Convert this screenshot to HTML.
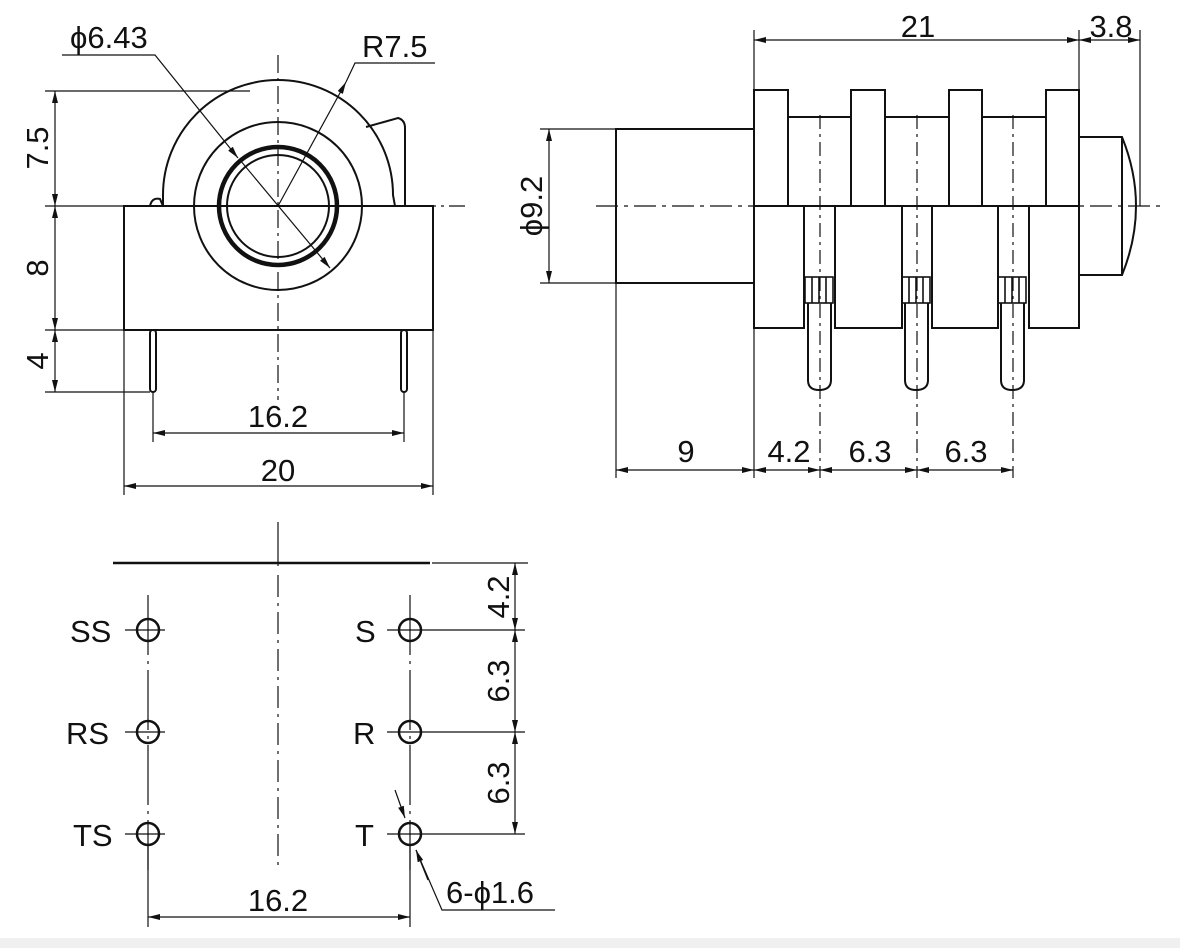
<!DOCTYPE html>
<html><head><meta charset="utf-8"><style>
html,body{margin:0;padding:0;background:#fff}
svg{display:block}
text{font-family:"Liberation Sans",Arial,sans-serif;fill:#111;font-size:31px}
</style></head><body>
<svg width="1180" height="948" viewBox="0 0 1180 948" xmlns="http://www.w3.org/2000/svg">
<defs>
<marker id="a" viewBox="0 0 12 6" refX="12" refY="3" markerWidth="12" markerHeight="6" orient="auto-start-reverse" markerUnits="userSpaceOnUse"><path d="M0,0 L12,3 L0,6 z" fill="#111"/></marker>
</defs>
<rect x="0" y="938" width="1180" height="10" fill="#f0f0f0"/>
<g stroke="#111" fill="none">
<!-- FRONT VIEW -->
<g stroke-width="2">
<path d="M163,206 L163,195 A115,115 0 0 1 393,195 L395,206"/>
<path d="M124,206 L150,206 Q152,197 160,199 L163,206"/>
<rect x="124" y="206" width="309" height="124"/>
<path d="M366,127 L398,118 Q405,120 405,128 L405,206"/>
<circle cx="278" cy="206" r="84"/>
<circle cx="278" cy="206" r="59" stroke-width="4.5"/>
<circle cx="278" cy="206" r="51"/>
<rect x="150" y="330" width="6" height="62" rx="3"/>
<rect x="401" y="330" width="6" height="62" rx="3"/>
</g>
<g stroke-width="1.2">
<line x1="278" y1="55" x2="278" y2="400" stroke-dasharray="18,5,3,5"/>
<line x1="170" y1="206" x2="465" y2="206" stroke-dasharray="18,5,3,5"/>
<line x1="45" y1="91" x2="250" y2="91"/>
<line x1="45" y1="206" x2="124" y2="206"/>
<line x1="45" y1="330" x2="124" y2="330"/>
<line x1="45" y1="392" x2="150" y2="392"/>
<line x1="55" y1="91" x2="55" y2="206" marker-start="url(#a)" marker-end="url(#a)"/>
<line x1="55" y1="206" x2="55" y2="330" marker-start="url(#a)" marker-end="url(#a)"/>
<line x1="55" y1="330" x2="55" y2="392" marker-start="url(#a)" marker-end="url(#a)"/>
<line x1="153" y1="392" x2="153" y2="442"/>
<line x1="404" y1="392" x2="404" y2="442"/>
<line x1="153" y1="433" x2="404" y2="433" marker-start="url(#a)" marker-end="url(#a)"/>
<line x1="124" y1="330" x2="124" y2="495"/>
<line x1="433" y1="330" x2="433" y2="495"/>
<line x1="124" y1="486" x2="433" y2="486" marker-start="url(#a)" marker-end="url(#a)"/>
<polyline points="62,55 155,55 238,158" marker-end="url(#a)"/>
<line x1="240" y1="160" x2="330" y2="268" marker-end="url(#a)"/>
<polyline points="435,63 355,63 346,82"/>
<line x1="278" y1="206" x2="346" y2="82" marker-end="url(#a)"/>
</g>
<!-- SIDE VIEW -->
<g stroke-width="2">
<rect x="616" y="129" width="138" height="154"/>
<rect x="754" y="90" width="34" height="116"/>
<rect x="851" y="90" width="34" height="116"/>
<rect x="949" y="90" width="33" height="116"/>
<rect x="1046" y="90" width="33" height="116"/>
<path d="M788,117 H851 M885,117 H949 M982,117 H1046"/>
<path d="M754,206 H1079"/>
<path d="M754,206 V328 H804 V206 M835,206 V328 H902 V206 M932,206 V328 H998 V206 M1029,206 V328 H1079 V206"/>
<path d="M1079,137 H1122 Q1150,206 1122,275 H1079"/>
<line x1="1122" y1="137" x2="1122" y2="275"/>
</g>
<g stroke-width="1.6">
<g id="pin">
<rect x="805" y="277" width="28" height="26"/>
<line x1="812" y1="277" x2="812" y2="303"/><line x1="819" y1="277" x2="819" y2="303"/><line x1="826" y1="277" x2="826" y2="303"/>
<path d="M808,303 V380 Q808,390 819,390 Q831,390 831,380 V303" stroke-width="2"/>
</g>
<use href="#pin" x="97"/>
<use href="#pin" x="193"/>
</g>
<g stroke-width="1.2">
<line x1="596" y1="206" x2="1165" y2="206" stroke-dasharray="22,6,4,6"/>
<line x1="820" y1="115" x2="820" y2="478" stroke-dasharray="14,5,3,5"/>
<line x1="917" y1="115" x2="917" y2="478" stroke-dasharray="14,5,3,5"/>
<line x1="1013" y1="115" x2="1013" y2="478" stroke-dasharray="14,5,3,5"/>
<line x1="540" y1="129" x2="616" y2="129"/>
<line x1="540" y1="283" x2="616" y2="283"/>
<line x1="549" y1="129" x2="549" y2="283" marker-start="url(#a)" marker-end="url(#a)"/>
<line x1="754" y1="30" x2="754" y2="90"/>
<line x1="1079" y1="30" x2="1079" y2="206"/>
<line x1="1140" y1="30" x2="1140" y2="206"/>
<line x1="754" y1="40" x2="1079" y2="40" marker-start="url(#a)" marker-end="url(#a)"/>
<line x1="1079" y1="40" x2="1140" y2="40" marker-start="url(#a)" marker-end="url(#a)"/>
<line x1="616" y1="283" x2="616" y2="478"/>
<line x1="754" y1="328" x2="754" y2="478"/>
<line x1="616" y1="470" x2="754" y2="470" marker-start="url(#a)" marker-end="url(#a)"/>
<line x1="754" y1="470" x2="820" y2="470" marker-start="url(#a)" marker-end="url(#a)"/>
<line x1="820" y1="470" x2="917" y2="470" marker-start="url(#a)" marker-end="url(#a)"/>
<line x1="917" y1="470" x2="1013" y2="470" marker-start="url(#a)" marker-end="url(#a)"/>
</g>
<!-- BOTTOM VIEW -->
<line x1="113" y1="563" x2="430" y2="563" stroke-width="2.5"/>
<g stroke-width="1.2">
<line x1="278" y1="522" x2="278" y2="566"/>
<line x1="278" y1="575" x2="278" y2="870" stroke-dasharray="22,6,3,6"/>
<line x1="432" y1="563" x2="528" y2="563"/>
<line x1="148" y1="595" x2="148" y2="870" stroke-dasharray="60,6,3,6"/>
<line x1="410" y1="595" x2="410" y2="870" stroke-dasharray="60,6,3,6"/>
<line x1="125" y1="630" x2="165" y2="630"/><line x1="125" y1="732" x2="165" y2="732"/><line x1="125" y1="834" x2="165" y2="834"/>
<line x1="387" y1="630" x2="525" y2="630"/><line x1="387" y1="732" x2="525" y2="732"/><line x1="387" y1="834" x2="525" y2="834"/>
<line x1="515" y1="563" x2="515" y2="630" marker-start="url(#a)" marker-end="url(#a)"/>
<line x1="515" y1="630" x2="515" y2="732" marker-start="url(#a)" marker-end="url(#a)"/>
<line x1="515" y1="732" x2="515" y2="834" marker-start="url(#a)" marker-end="url(#a)"/>
<line x1="148" y1="845" x2="148" y2="927"/>
<line x1="410" y1="845" x2="410" y2="927"/>
<line x1="148" y1="917" x2="410" y2="917" marker-start="url(#a)" marker-end="url(#a)"/>
<line x1="395" y1="790" x2="405" y2="818" marker-end="url(#a)"/>
<polyline points="555,910 442,910 416,850"/>
<line x1="428" y1="880" x2="416" y2="850" marker-end="url(#a)"/>
</g>
<g stroke-width="2.5">
<circle cx="148" cy="630" r="11"/><circle cx="148" cy="732" r="11"/><circle cx="148" cy="834" r="11"/>
<circle cx="410" cy="630" r="11"/><circle cx="410" cy="732" r="11"/><circle cx="410" cy="834" r="11"/>
</g>
</g>
<!-- TEXT -->
<text x="70" y="48">ϕ6.43</text>
<text x="362" y="57">R7.5</text>
<text transform="translate(48,148) rotate(-90)" text-anchor="middle">7.5</text>
<text transform="translate(48,268) rotate(-90)" text-anchor="middle">8</text>
<text transform="translate(48,361) rotate(-90)" text-anchor="middle">4</text>
<text x="278" y="427" text-anchor="middle">16.2</text>
<text x="278" y="481" text-anchor="middle">20</text>
<text x="918" y="37" text-anchor="middle">21</text>
<text x="1111" y="37" text-anchor="middle">3.8</text>
<text transform="translate(542,206) rotate(-90)" text-anchor="middle">ϕ9.2</text>
<text x="686" y="462" text-anchor="middle">9</text>
<text x="789" y="462" text-anchor="middle">4.2</text>
<text x="870" y="462" text-anchor="middle">6.3</text>
<text x="966" y="462" text-anchor="middle">6.3</text>
<text x="70" y="642">SS</text>
<text x="66" y="744">RS</text>
<text x="73" y="846">TS</text>
<text x="355" y="642">S</text>
<text x="353" y="744">R</text>
<text x="355" y="846">T</text>
<text transform="translate(509,597) rotate(-90)" text-anchor="middle">4.2</text>
<text transform="translate(509,681) rotate(-90)" text-anchor="middle">6.3</text>
<text transform="translate(509,783) rotate(-90)" text-anchor="middle">6.3</text>
<text x="278" y="911" text-anchor="middle">16.2</text>
<text x="446" y="903">6-ϕ1.6</text>
</svg>
</body></html>
